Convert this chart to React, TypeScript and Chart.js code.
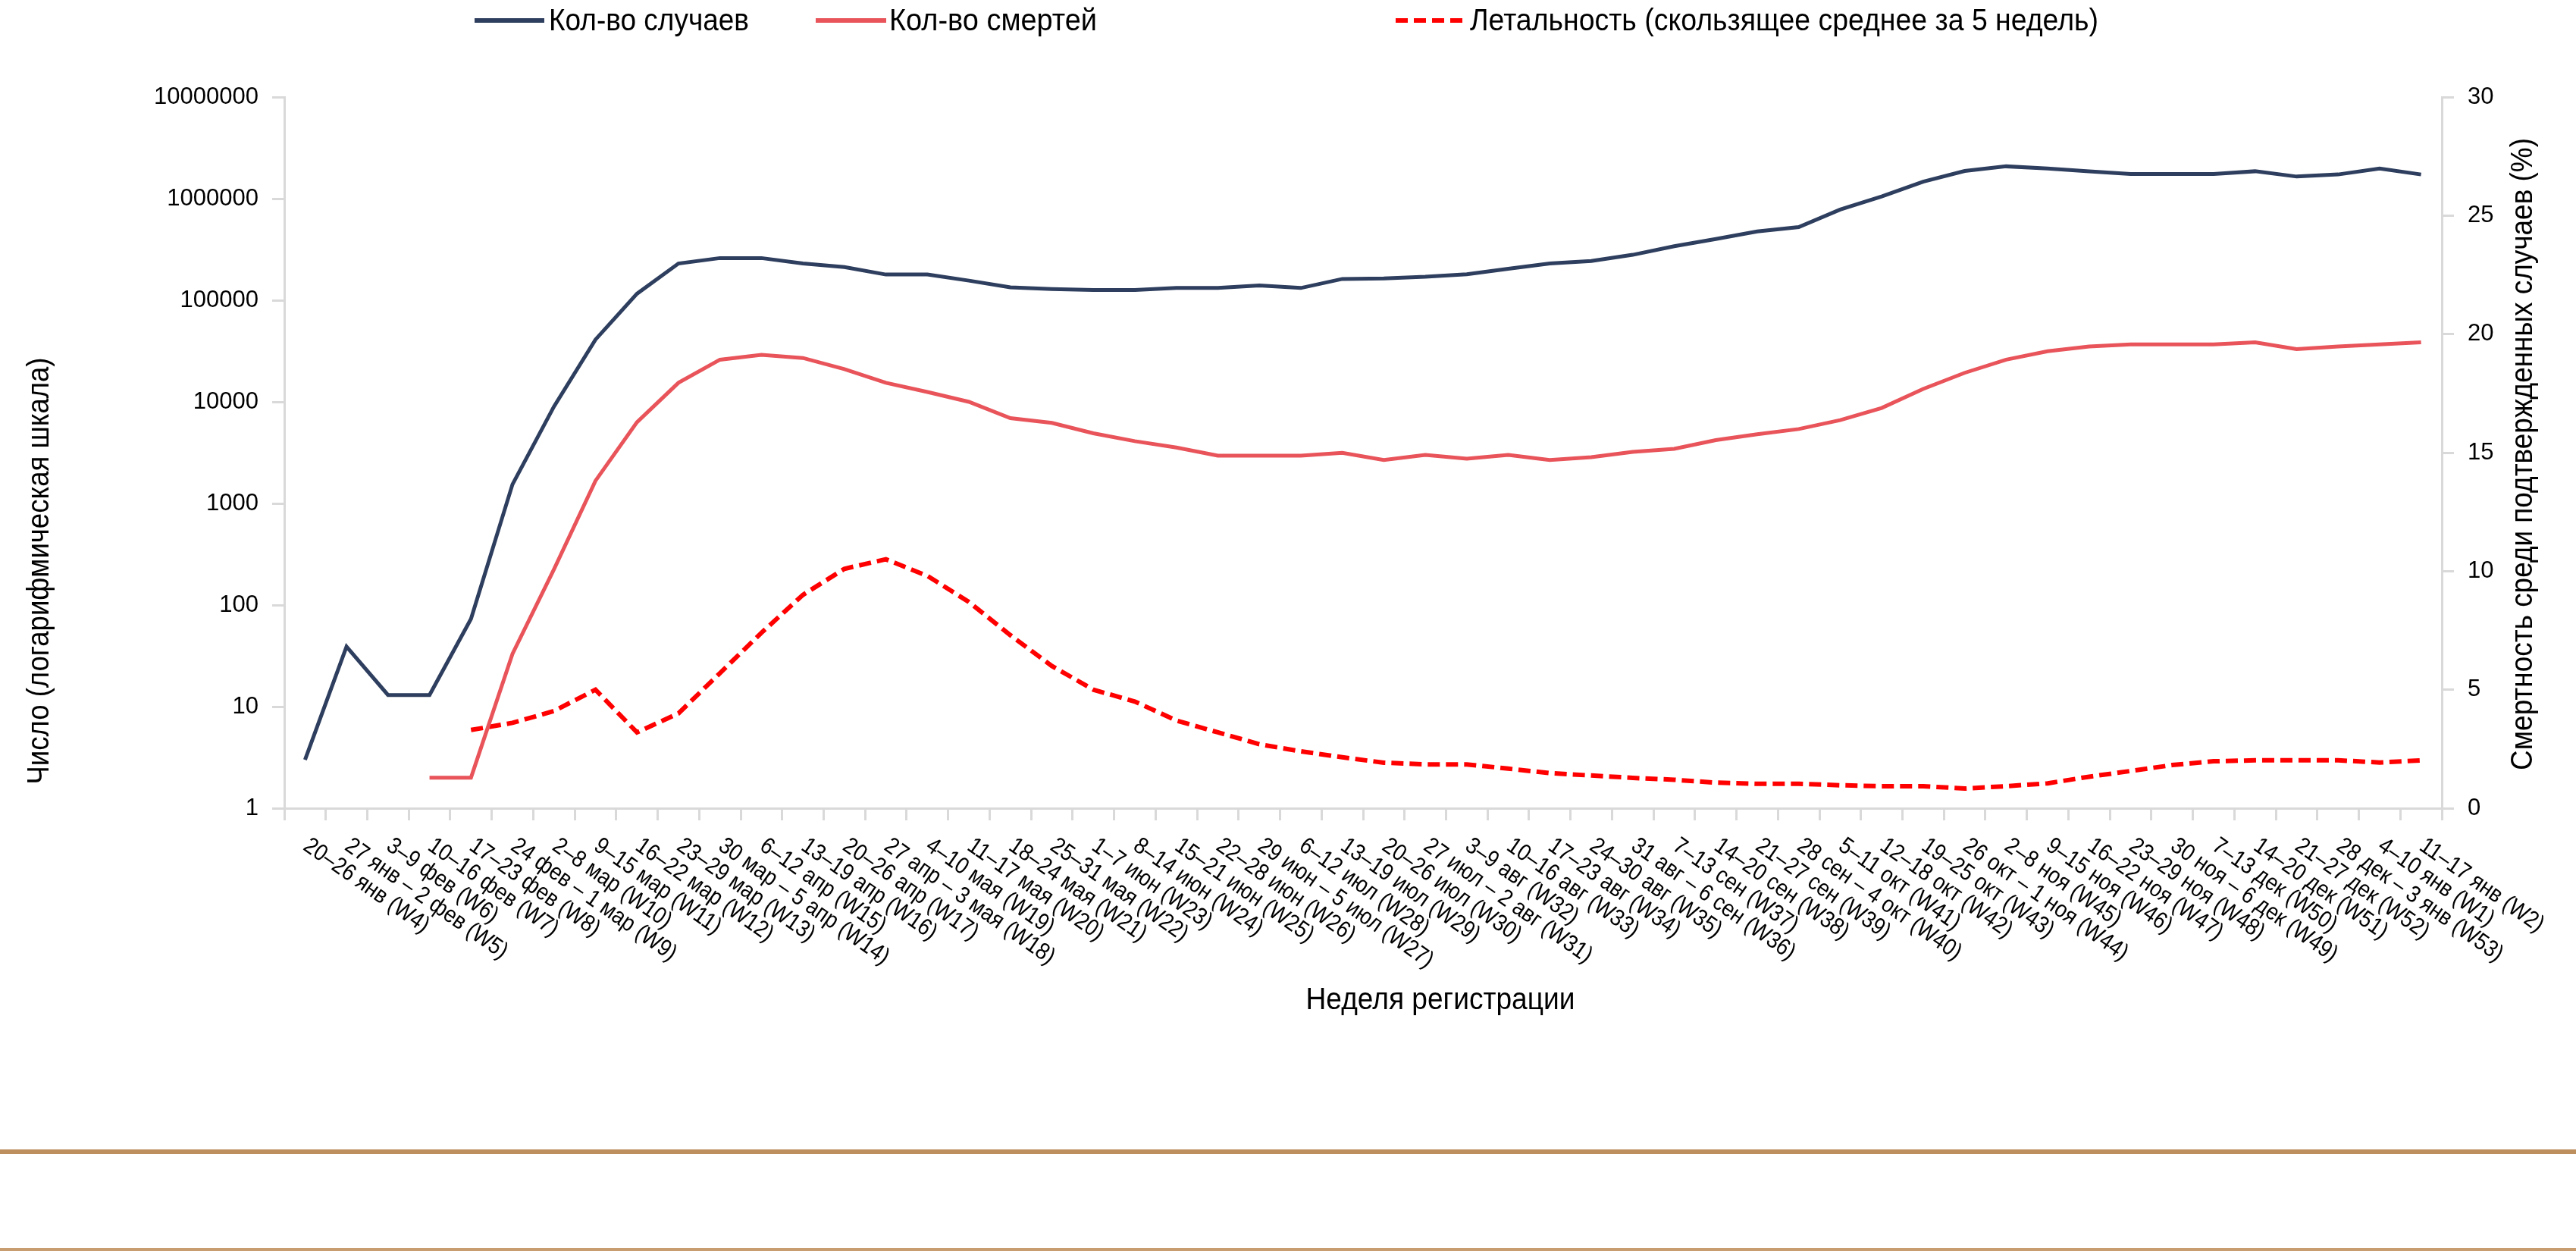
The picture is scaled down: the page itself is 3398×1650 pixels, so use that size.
import React, { useEffect, useRef } from 'react';
import { Chart, registerables } from 'chart.js';

Chart.register(...registerables);

const W = 3398;
const H = 1650;
const FONT = '"Liberation Sans", Arial, sans-serif';

const weekLabels = [
  '20–26 янв (W4)', '27 янв – 2 фев (W5)', '3–9 фев (W6)', '10–16 фев (W7)', '17–23 фев (W8)',
  '24 фев – 1 мар (W9)', '2–8 мар (W10)', '9–15 мар (W11)', '16–22 мар (W12)', '23–29 мар (W13)',
  '30 мар – 5 апр (W14)', '6–12 апр (W15)', '13–19 апр (W16)', '20–26 апр (W17)', '27 апр – 3 мая (W18)',
  '4–10 мая (W19)', '11–17 мая (W20)', '18–24 мая (W21)', '25–31 мая (W22)', '1–7 июн (W23)',
  '8–14 июн (W24)', '15–21 июн (W25)', '22–28 июн (W26)', '29 июн – 5 июл (W27)', '6–12 июл (W28)',
  '13–19 июл (W29)', '20–26 июл (W30)', '27 июл – 2 авг (W31)', '3–9 авг (W32)', '10–16 авг (W33)',
  '17–23 авг (W34)', '24–30 авг (W35)', '31 авг – 6 сен (W36)', '7–13 сен (W37)', '14–20 сен (W38)',
  '21–27 сен (W39)', '28 сен – 4 окт (W40)', '5–11 окт (W41)', '12–18 окт (W42)', '19–25 окт (W43)',
  '26 окт – 1 ноя (W44)', '2–8 ноя (W45)', '9–15 ноя (W46)', '16–22 ноя (W47)', '23–29 ноя (W48)',
  '30 ноя – 6 дек (W49)', '7–13 дек (W50)', '14–20 дек (W51)', '21–27 дек (W52)', '28 дек – 3 янв (W53)',
  '4–10 янв (W1)', '11–17 янв (W2)',
];

const casesCount = [
  3, 39, 13, 13, 73, 1540, 9000, 41000, 116000, 230000,
  260000, 260000, 230000, 212000, 179000, 179000, 156000, 134000, 129000, 126000,
  126000, 132000, 132000, 140000, 132000, 162000, 164000, 170000, 180000, 204000,
  230000, 243000, 280000, 340000, 400000, 475000, 525000, 780000, 1050000, 1470000,
  1870000, 2080000, 1980000, 1860000, 1750000, 1750000, 1750000, 1860000, 1650000, 1730000,
  1980000, 1730000,
];

const deathsCount = [
  null, null, null, 2, 2, 33, 225, 1670, 6300, 15400,
  26000, 29000, 27000, 21000, 15400, 12500, 10000, 6900, 6200, 4900,
  4100, 3550, 2950, 2950, 2950, 3150, 2680, 3000, 2760, 3000,
  2680, 2850, 3220, 3450, 4200, 4800, 5400, 6600, 8700, 13400,
  19300, 26000, 31500, 35000, 36700, 36700, 36700, 38500, 33000, 35000,
  36700, 38500,
];

const lethalityPct = [
  null, null, null, null, 3.3, 3.6, 4.1, 5.0, 3.2, 4.0,
  5.7, 7.4, 9.0, 10.1, 10.5, 9.8, 8.7, 7.3, 6.0, 5.0,
  4.5, 3.7, 3.2, 2.7, 2.4, 2.15, 1.92, 1.85, 1.85, 1.67,
  1.48, 1.38, 1.28, 1.2, 1.08, 1.03, 1.03, 0.97, 0.93, 0.93,
  0.83, 0.93, 1.05, 1.33, 1.57, 1.82, 1.98, 2.02, 2.02, 2.02,
  1.93, 2.02,
];

const leftTickValues = [1, 10, 100, 1000, 10000, 100000, 1000000, 10000000];

const seriesNames = ['Кол-во случаев', 'Кол-во смертей', 'Летальность (скользящее среднее за 5 недель)'];
const seriesColors = ['#2e3e5e', '#e8545a', '#ff0000'];

const xTitle = 'Неделя регистрации';
const leftTitle = 'Число (логарифмическая шкала)';
const rightTitle = 'Смертность среди подтвержденных случаев (%)';

const AXIS_COLOR = '#d9d9d9';

function fitText(ctx: CanvasRenderingContext2D, text: string, x: number, y: number, width: number, align: 'left' | 'center') {
  const w = ctx.measureText(text).width;
  ctx.save();
  ctx.translate(x, y);
  ctx.scale(width / w, 1);
  ctx.textAlign = align;
  ctx.fillText(text, 0, 0);
  ctx.restore();
}

const decorPlugin = {
  id: 'decor',
  afterDraw(chart: any) {
    const ctx: CanvasRenderingContext2D = chart.ctx;
    const xScale = chart.scales.x;
    ctx.save();
    ctx.fillStyle = '#000';

    // x tick labels (rotated)
    ctx.font = `31px ${FONT}`;
    ctx.textBaseline = 'top';
    ctx.textAlign = 'left';
    const ang = (35 * Math.PI) / 180;
    (chart.data.labels as string[]).forEach((lab, i) => {
      const px = xScale.getPixelForValue(i);
      ctx.save();
      ctx.translate(px + 10, xScale.top + 34);
      ctx.rotate(ang);
      ctx.scale(0.88, 1);
      ctx.fillText(lab, 0, 0);
      ctx.restore();
    });

    // legend
    const legendLayout = [
      { x0: 626, x1: 718, tx: 724, tw: 264 },
      { x0: 1076, x1: 1169, tx: 1173, tw: 274 },
      { x0: 1841, x1: 1935, tx: 1939, tw: 829 },
    ];
    ctx.font = `40px ${FONT}`;
    ctx.textBaseline = 'alphabetic';
    legendLayout.forEach((l, i) => {
      ctx.save();
      ctx.strokeStyle = seriesColors[i];
      ctx.lineWidth = 6;
      ctx.setLineDash(i === 2 ? [16, 8] : []);
      ctx.beginPath();
      ctx.moveTo(l.x0, 27);
      ctx.lineTo(l.x1, 27);
      ctx.stroke();
      ctx.restore();
      fitText(ctx, seriesNames[i], l.tx, 40, l.tw, 'left');
    });

    // axis titles
    ctx.font = `40px ${FONT}`;
    fitText(ctx, xTitle, 1900, 1331, 355, 'center');

    ctx.save();
    ctx.translate(64, 753);
    ctx.rotate(-Math.PI / 2);
    fitText(ctx, leftTitle, 0, 0, 563, 'center');
    ctx.restore();

    ctx.save();
    ctx.translate(3340, 599);
    ctx.rotate(-Math.PI / 2);
    fitText(ctx, rightTitle, 0, 0, 834, 'center');
    ctx.restore();

    // brown separator lines
    ctx.fillStyle = '#bd8e5e';
    ctx.fillRect(0, 1516, W, 6);
    ctx.fillStyle = '#c89d6f';
    ctx.fillRect(0, 1646, W, 4);
    ctx.restore();
  },
};

export default function App() {
  const ref = useRef<HTMLCanvasElement | null>(null);

  useEffect(() => {
    document.body.style.margin = '0';
    const canvas = ref.current;
    if (!canvas) return;
    const tickFont = { family: FONT, size: 31 };
    const chart = new Chart(canvas, {
      type: 'line',
      data: {
        labels: weekLabels,
        datasets: [
          {
            label: seriesNames[0],
            data: casesCount,
            yAxisID: 'y',
            borderColor: seriesColors[0],
            backgroundColor: seriesColors[0],
            borderWidth: 5,
            pointRadius: 0,
            tension: 0,
          },
          {
            label: seriesNames[1],
            data: deathsCount,
            yAxisID: 'y',
            borderColor: seriesColors[1],
            backgroundColor: seriesColors[1],
            borderWidth: 5,
            pointRadius: 0,
            tension: 0,
          },
          {
            label: seriesNames[2],
            data: lethalityPct,
            yAxisID: 'y1',
            borderColor: seriesColors[2],
            backgroundColor: seriesColors[2],
            borderWidth: 6,
            borderDash: [16, 8],
            pointRadius: 0,
            tension: 0,
          },
        ],
      },
      options: {
        responsive: false,
        animation: false,
        layout: { padding: { top: 128, left: 0, right: 0, bottom: 0 } },
        plugins: { legend: { display: false }, tooltip: { enabled: false } },
        scales: {
          x: {
            type: 'category',
            offset: true,
            grid: { offset: true, drawOnChartArea: false, drawTicks: true, tickLength: 16, color: AXIS_COLOR, lineWidth: 3 },
            border: { display: true, color: AXIS_COLOR, width: 3 },
            ticks: { display: false },
            afterFit: (s: any) => { s.height = H - 1066; },
          },
          y: {
            type: 'logarithmic',
            position: 'left',
            min: 1,
            max: 10000000,
            afterBuildTicks: (s: any) => { s.ticks = leftTickValues.map((v) => ({ value: v })); },
            ticks: { callback: (v: any) => String(v), font: tickFont, color: '#000', padding: 18 },
            grid: { drawOnChartArea: false, drawTicks: true, tickLength: 16, color: AXIS_COLOR, lineWidth: 3 },
            border: { display: true, color: AXIS_COLOR, width: 3 },
            afterFit: (s: any) => { s.width = 375; },
          },
          y1: {
            type: 'linear',
            position: 'right',
            min: 0,
            max: 30,
            ticks: { stepSize: 5, font: tickFont, color: '#000', padding: 18 },
            grid: { drawOnChartArea: false, drawTicks: true, tickLength: 16, color: AXIS_COLOR, lineWidth: 3 },
            border: { display: true, color: AXIS_COLOR, width: 3 },
            afterFit: (s: any) => { s.width = W - 3221; },
          },
        },
      },
      plugins: [decorPlugin],
    } as any);
    return () => chart.destroy();
  }, []);

  return (
    <div style={{ position: 'absolute', left: 0, top: 0, width: W, height: H, background: '#fff' }}>
      <canvas ref={ref} width={W} height={H} style={{ display: 'block', width: W, height: H }} />
    </div>
  );
}
